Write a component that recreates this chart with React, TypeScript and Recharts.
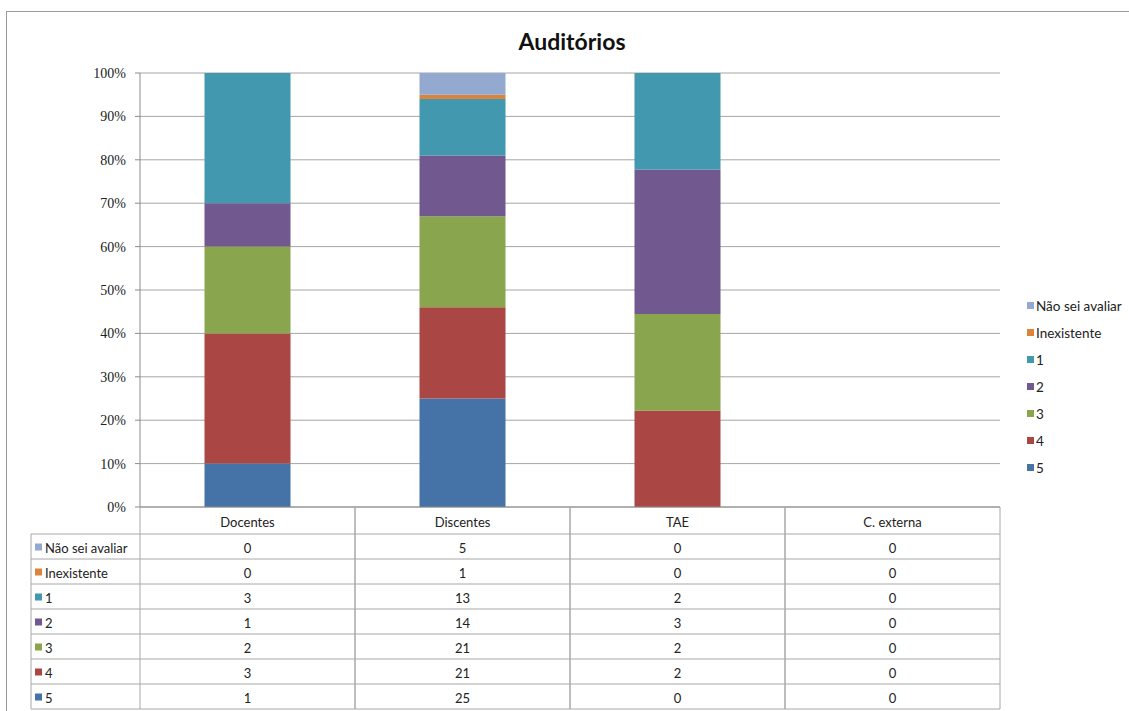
import React from 'react';
import { BarChart, Bar, XAxis, YAxis, CartesianGrid } from 'recharts';

const categories = ['Docentes', 'Discentes', 'TAE', 'C. externa'];

const nota5 = [1, 25, 0, 0];
const nota4 = [3, 21, 2, 0];
const nota3 = [2, 21, 2, 0];
const nota2 = [1, 14, 3, 0];
const nota1 = [3, 13, 2, 0];
const inexistente = [0, 1, 0, 0];
const naoSei = [0, 5, 0, 0];

const percentTicks = [0, 0.1, 0.2, 0.3, 0.4, 0.5, 0.6, 0.7, 0.8, 0.9, 1];

// bottom of the stack first
const series = [
    { key: 'n5', name: '5', color: '#4572A7', values: nota5 },
    { key: 'n4', name: '4', color: '#AA4643', values: nota4 },
    { key: 'n3', name: '3', color: '#89A54E', values: nota3 },
    { key: 'n2', name: '2', color: '#71588F', values: nota2 },
    { key: 'n1', name: '1', color: '#4198AF', values: nota1 },
    { key: 'inex', name: 'Inexistente', color: '#DB843D', values: inexistente },
    { key: 'nsa', name: 'Não sei avaliar', color: '#93A9CF', values: naoSei },
];

const data = categories.map((name, i) => {
    const row: Record<string, any> = { name };
    series.forEach((s) => {
        row[s.key] = s.values[i];
    });
    return row;
});

// table rows go top-down (reverse of stack)
const tableRows = [...series].reverse();

const W = 1129;
const H = 711;
const PLOT_LEFT = 140;
const PLOT_RIGHT = 1000;
const PLOT_TOP = 73;
const PLOT_BOTTOM = 507;
const HEADER_H = 27;
const ROW_H = 25;
const TABLE_LEFT = 31;
const LINE = '#a8a8a8';
const SANS = 'Lato, "Open Sans", sans-serif';

const bandWidth = (PLOT_RIGHT - PLOT_LEFT) / categories.length;

function TableColumnTick(props: any) {
    const { x, y, payload } = props;
    const idx = payload.index;
    const half = bandWidth / 2;
    const bottom = y + HEADER_H + ROW_H * tableRows.length;
    return (
        <g>
            <line x1={x - half} y1={y} x2={x - half} y2={bottom} stroke={LINE} />
            <line x1={x + half} y1={y} x2={x + half} y2={bottom} stroke={LINE} />
            <text
                x={x}
                y={y + HEADER_H / 2 + 1}
                textAnchor="middle"
                dominantBaseline="central"
                fontFamily={SANS}
                fontSize={13}
                fill="#222"
            >
                {payload.value}
            </text>
            {tableRows.map((s, r) => (
                <text
                    key={s.key}
                    x={x}
                    y={y + HEADER_H + ROW_H * r + ROW_H / 2 + 1}
                    textAnchor="middle"
                    dominantBaseline="central"
                    fontFamily={SANS}
                    fontSize={13}
                    fill="#222"
                >
                    {s.values[idx]}
                </text>
            ))}
        </g>
    );
}

export default function App() {
    const tableTop = PLOT_BOTTOM + 1;
    return (
        <div style={{ position: 'absolute', left: 0, top: 0, width: W, height: H, background: '#fff', overflow: 'hidden' }}>
            <BarChart
                width={W}
                height={H}
                data={data}
                stackOffset="expand"
                barCategoryGap="30%"
                margin={{ top: PLOT_TOP, right: W - PLOT_RIGHT, bottom: 2, left: 40 }}
            >
                <CartesianGrid vertical={false} stroke="#a6a6a6" />
                <XAxis
                    dataKey="name"
                    height={H - 2 - PLOT_BOTTOM}
                    tickSize={0}
                    tickMargin={0}
                    tickLine={false}
                    axisLine={{ stroke: '#8c8c8c' }}
                    interval={0}
                    tick={<TableColumnTick />}
                />
                <YAxis
                    width={PLOT_LEFT - 40}
                    domain={[0, 1]}
                    ticks={percentTicks}
                    tickFormatter={(v: number) => `${Math.round(v * 100)}%`}
                    tickSize={5}
                    tickMargin={9}
                    stroke="#8c8c8c"
                    tick={{ fill: '#222', fontFamily: '"Liberation Serif", serif', fontSize: 14 }}
                />
                {series.map((s) => (
                    <Bar
                        key={s.key}
                        dataKey={s.key}
                        name={s.name}
                        stackId="a"
                        fill={s.color}
                        isAnimationActive={false}
                    />
                ))}
            </BarChart>
            <svg
                width={W}
                height={H}
                style={{ position: 'absolute', left: 0, top: 0, pointerEvents: 'none' }}
            >
                {/* outer chart border */}
                <line x1={6} y1={11.5} x2={W} y2={11.5} stroke="#9a9a9a" />
                <line x1={6.5} y1={11} x2={6.5} y2={H} stroke="#9a9a9a" />
                <text
                    x={(PLOT_LEFT + PLOT_RIGHT) / 2 + 2}
                    y={50}
                    textAnchor="middle"
                    fontFamily={SANS}
                    fontWeight="bold"
                    fontSize={23}
                    fill="#111"
                >
                    Auditórios
                </text>
                {/* table grid: left label column + row separators */}
                <line
                    x1={TABLE_LEFT}
                    y1={tableTop + HEADER_H - 1}
                    x2={TABLE_LEFT}
                    y2={tableTop + HEADER_H - 1 + ROW_H * tableRows.length}
                    stroke={LINE}
                />
                {tableRows.map((s, r) => {
                    const top = tableTop + HEADER_H - 1 + ROW_H * r;
                    return (
                        <g key={s.key}>
                            <line x1={TABLE_LEFT} y1={top} x2={PLOT_RIGHT} y2={top} stroke={LINE} />
                            <rect x={TABLE_LEFT + 4} y={top + ROW_H / 2 - 3} width={7} height={7} fill={s.color} />
                            <text
                                x={TABLE_LEFT + 14}
                                y={top + ROW_H / 2 + 1}
                                dominantBaseline="central"
                                fontFamily={SANS}
                                fontSize={13}
                                fill="#222"
                            >
                                {s.name}
                            </text>
                        </g>
                    );
                })}
                <line
                    x1={TABLE_LEFT}
                    y1={tableTop + HEADER_H - 1 + ROW_H * tableRows.length}
                    x2={PLOT_RIGHT}
                    y2={tableTop + HEADER_H - 1 + ROW_H * tableRows.length}
                    stroke={LINE}
                />
                {/* legend */}
                {tableRows.map((s, r) => (
                    <g key={s.key}>
                        <rect x={1027} y={302 + 27 * r} width={7} height={7} fill={s.color} />
                        <text
                            x={1036}
                            y={306 + 27 * r}
                            dominantBaseline="central"
                            fontFamily={SANS}
                            fontSize={13.5}
                            fill="#222"
                        >
                            {s.name}
                        </text>
                    </g>
                ))}
            </svg>
        </div>
    );
}
